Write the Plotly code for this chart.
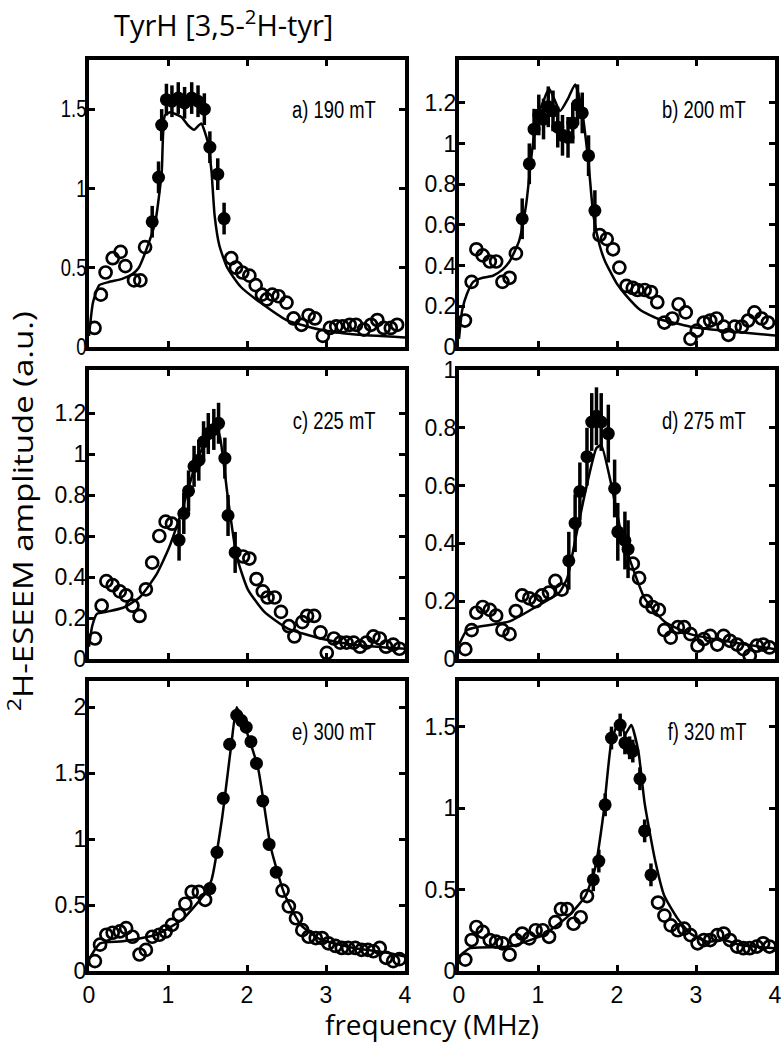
import plotly.graph_objects as go

# ---------------- data ----------------
panel_labels = ["a) 190 mT", "b) 200 mT", "c) 225 mT", "d) 275 mT", "e) 300 mT", "f) 320 mT"]
x_ticks = [0, 1, 2, 3, 4]

# a) 190 mT
a_open_x = [0.07, 0.15, 0.21, 0.30, 0.40, 0.46, 0.57, 0.65, 0.71, 1.80, 1.86, 1.94, 2.03, 2.11, 2.19, 2.25, 2.32,
            2.40, 2.50, 2.59, 2.69, 2.78, 2.86, 2.96, 3.05, 3.13, 3.21, 3.30, 3.38, 3.48, 3.57, 3.65, 3.73, 3.82, 3.90]
a_open_y = [0.12, 0.33, 0.47, 0.56, 0.60, 0.51, 0.42, 0.42, 0.63, 0.56, 0.50, 0.47, 0.45, 0.39, 0.33, 0.30, 0.33,
            0.32, 0.28, 0.18, 0.14, 0.20, 0.18, 0.07, 0.12, 0.13, 0.13, 0.14, 0.14, 0.11, 0.14, 0.17, 0.12, 0.12, 0.14]
a_fill_x = [0.80, 0.88, 0.92, 0.98, 1.05, 1.13, 1.21, 1.30, 1.38, 1.46, 1.53, 1.63, 1.71]
a_fill_y = [0.79, 1.07, 1.40, 1.56, 1.55, 1.57, 1.54, 1.57, 1.55, 1.50, 1.26, 1.09, 0.81]
a_fit_x = [0, 0.05, 0.13, 0.25, 0.42, 0.55, 0.63, 0.73, 0.84, 0.92, 0.96, 1.03, 1.17, 1.25, 1.33, 1.42, 1.50,
           1.55, 1.59, 1.65, 1.75, 1.92, 2.17, 2.50, 2.92, 3.34, 4.0]
a_fit_y = [0.07, 0.28, 0.39, 0.41, 0.43, 0.46, 0.50, 0.62, 0.79, 1.10, 1.46, 1.48, 1.45, 1.40, 1.37, 1.41, 1.30,
           1.11, 0.83, 0.64, 0.50, 0.38, 0.28, 0.17, 0.11, 0.08, 0.06]

# b) 200 mT
b_open_x = [0.075, 0.16, 0.22, 0.30, 0.39, 0.47, 0.55, 0.64, 0.72, 1.78, 1.87, 1.95, 2.03, 2.12, 2.20, 2.26, 2.35,
            2.43, 2.51, 2.60, 2.70, 2.78, 2.87, 2.93, 3.01, 3.10, 3.18, 3.26, 3.35, 3.41, 3.49, 3.58, 3.66, 3.74,
            3.83, 3.91]
b_open_y = [0.13, 0.32, 0.48, 0.45, 0.42, 0.42, 0.32, 0.34, 0.46, 0.55, 0.53, 0.48, 0.39, 0.30, 0.29, 0.28, 0.28,
            0.27, 0.22, 0.12, 0.14, 0.21, 0.17, 0.04, 0.08, 0.12, 0.13, 0.14, 0.10, 0.06, 0.10, 0.10, 0.13, 0.17,
            0.14, 0.12]
b_fill_x = [0.80, 0.89, 0.95, 1.01, 1.07, 1.13, 1.19, 1.25, 1.31, 1.38, 1.44, 1.50, 1.56, 1.64, 1.72]
b_fill_y = [0.63, 0.90, 1.07, 1.14, 1.12, 1.18, 1.16, 1.08, 1.04, 1.03, 1.10, 1.19, 1.15, 0.94, 0.67]
b_fit_x = [0, 0.04, 0.10, 0.18, 0.30, 0.43, 0.55, 0.64, 0.76, 0.85, 0.93, 0.99, 1.06, 1.14, 1.28, 1.38, 1.47,
           1.55, 1.64, 1.70, 1.78, 1.85, 2.00, 2.10, 2.30, 2.51, 2.93, 3.35, 4.0]
b_fit_y = [0.04, 0.18, 0.26, 0.32, 0.34, 0.35, 0.38, 0.42, 0.52, 0.70, 0.98, 1.13, 1.20, 1.27, 1.16, 1.22, 1.29,
           1.18, 0.90, 0.65, 0.50, 0.42, 0.31, 0.26, 0.18, 0.14, 0.10, 0.08, 0.056]

# c) 225 mT
c_open_x = [0.075, 0.16, 0.22, 0.30, 0.39, 0.47, 0.55, 0.64, 0.72, 0.80, 0.89, 0.97, 1.05, 1.95, 2.03, 2.12,
            2.20, 2.26, 2.35, 2.43, 2.53, 2.60, 2.70, 2.76, 2.85, 2.93, 3.01, 3.10, 3.18, 3.26, 3.35, 3.43, 3.51,
            3.60, 3.68, 3.76, 3.85, 3.93]
c_open_y = [0.10, 0.26, 0.38, 0.36, 0.33, 0.31, 0.26, 0.21, 0.34, 0.47, 0.60, 0.67, 0.66, 0.50, 0.49, 0.39,
            0.33, 0.30, 0.30, 0.23, 0.16, 0.11, 0.18, 0.21, 0.21, 0.13, 0.03, 0.10, 0.08, 0.08, 0.08, 0.06, 0.08,
            0.11, 0.10, 0.06, 0.07, 0.05]
c_fill_x = [1.14, 1.20, 1.26, 1.33, 1.39, 1.45, 1.51, 1.58, 1.64, 1.72, 1.76, 1.85]
c_fill_y = [0.58, 0.71, 0.82, 0.94, 0.97, 1.06, 1.10, 1.12, 1.15, 0.98, 0.70, 0.52]
c_fit_x = [0, 0.04, 0.10, 0.22, 0.43, 0.64, 0.85, 1.01, 1.18, 1.35, 1.49, 1.60, 1.66, 1.76, 1.87, 2.01, 2.22,
           2.51, 2.93, 3.35, 4.0]
c_fit_y = [0.06, 0.16, 0.22, 0.23, 0.25, 0.30, 0.41, 0.54, 0.73, 0.95, 1.07, 1.14, 1.08, 0.78, 0.50, 0.34, 0.23,
           0.15, 0.10, 0.07, 0.05]

# d) 275 mT
d_open_x = [0.08, 0.16, 0.22, 0.30, 0.39, 0.47, 0.55, 0.64, 0.72, 0.80, 0.89, 0.97, 1.05, 1.14, 1.22, 1.30,
            2.20, 2.28, 2.37, 2.45, 2.53, 2.60, 2.68, 2.77, 2.85, 2.93, 3.02, 3.10, 3.18, 3.27, 3.35, 3.43, 3.52,
            3.60, 3.68, 3.77, 3.85, 3.93]
d_open_y = [0.034, 0.10, 0.16, 0.18, 0.17, 0.15, 0.10, 0.086, 0.166, 0.22, 0.21, 0.20, 0.22, 0.23, 0.27, 0.24,
            0.33, 0.28, 0.20, 0.18, 0.17, 0.10, 0.074, 0.11, 0.11, 0.086, 0.046, 0.069, 0.08, 0.05, 0.08, 0.063,
            0.05, 0.034, 0.011, 0.046, 0.05, 0.04]
d_fill_x = [1.39, 1.47, 1.53, 1.62, 1.68, 1.74, 1.80, 1.89, 1.97, 2.01, 2.10, 2.14]
d_fill_y = [0.34, 0.47, 0.58, 0.70, 0.82, 0.84, 0.82, 0.78, 0.59, 0.44, 0.41, 0.38]
d_fit_x = [0, 0.10, 0.22, 0.64, 0.97, 1.27, 1.37, 1.47, 1.60, 1.74, 1.80, 1.93, 2.05, 2.18, 2.35, 2.60, 2.93,
           3.35, 4.0]
d_fit_y = [0.05, 0.10, 0.11, 0.13, 0.18, 0.23, 0.28, 0.41, 0.58, 0.73, 0.74, 0.60, 0.44, 0.33, 0.21, 0.13, 0.086,
           0.063, 0.034]

# e) 300 mT
e_open_x = [0.075, 0.14, 0.22, 0.30, 0.39, 0.47, 0.55, 0.64, 0.72, 0.80, 0.89, 0.97, 1.05, 1.14, 1.22, 1.30,
            1.39, 1.47, 2.45, 2.53, 2.62, 2.70, 2.78, 2.87, 2.95, 3.03, 3.12, 3.20, 3.28, 3.37, 3.45, 3.53, 3.60,
            3.68, 3.76, 3.85, 3.93]
e_open_y = [0.075, 0.20, 0.275, 0.29, 0.30, 0.325, 0.26, 0.125, 0.16, 0.26, 0.275, 0.30, 0.35, 0.425, 0.51,
            0.60, 0.60, 0.54, 0.61, 0.49, 0.40, 0.31, 0.26, 0.25, 0.25, 0.21, 0.19, 0.175, 0.175, 0.175, 0.16,
            0.16, 0.15, 0.175, 0.10, 0.075, 0.09]
e_fill_x = [1.53, 1.62, 1.70, 1.78, 1.87, 1.93, 1.99, 2.05, 2.12, 2.20, 2.28, 2.37]
e_fill_y = [0.625, 0.90, 1.31, 1.72, 1.94, 1.90, 1.85, 1.74, 1.575, 1.29, 0.96, 0.75]
e_fit_x = [0, 0.14, 0.43, 0.85, 1.18, 1.43, 1.55, 1.68, 1.80, 1.87, 1.97, 2.14, 2.30, 2.47, 2.68, 2.93, 3.35,
           3.76, 4.0]
e_fit_y = [0.09, 0.21, 0.225, 0.275, 0.39, 0.56, 0.69, 1.14, 1.71, 2.0, 1.86, 1.54, 0.94, 0.59, 0.35, 0.24, 0.175,
           0.14, 0.11]

# f) 320 mT
f_open_x = [0.08, 0.16, 0.22, 0.30, 0.39, 0.47, 0.55, 0.64, 0.72, 0.80, 0.89, 0.97, 1.06, 1.14, 1.22, 1.29,
            1.37, 1.45, 1.54, 1.62, 2.52, 2.60, 2.68, 2.77, 2.85, 2.93, 3.02, 3.10, 3.18, 3.27, 3.35, 3.43, 3.52,
            3.60, 3.68, 3.77, 3.85, 3.93]
f_open_y = [0.07, 0.19, 0.27, 0.24, 0.19, 0.18, 0.17, 0.10, 0.19, 0.23, 0.20, 0.25, 0.25, 0.21, 0.30, 0.38,
            0.38, 0.29, 0.33, 0.46, 0.42, 0.34, 0.28, 0.25, 0.26, 0.22, 0.17, 0.19, 0.19, 0.22, 0.23, 0.19, 0.15,
            0.14, 0.14, 0.15, 0.17, 0.15]
f_fill_x = [1.70, 1.77, 1.85, 1.93, 2.04, 2.10, 2.16, 2.20, 2.29, 2.35, 2.43]
f_fill_y = [0.56, 0.675, 1.02, 1.43, 1.51, 1.40, 1.37, 1.35, 1.18, 0.86, 0.59]
f_fit_x = [0, 0.14, 0.64, 1.06, 1.39, 1.60, 1.72, 1.83, 1.93, 2.04, 2.10, 2.18, 2.27, 2.35, 2.48, 2.60, 2.77,
           2.93, 3.14, 3.35, 3.56, 4.0]
f_fit_y = [0.09, 0.14, 0.15, 0.22, 0.34, 0.46, 0.625, 0.97, 1.41, 1.55, 1.45, 1.51, 1.35, 1.03, 0.685, 0.46, 0.32,
           0.23, 0.18, 0.19, 0.16, 0.14]

error_sizes = [0.10, 0.10, 0.10, 0.10, 0.045, 0.07]

y_ranges = [[0, 1.81], [0, 1.41], [0, 1.41], [0, 1.0], [0, 2.2], [0, 1.78]]
y_tickvals = [[0, 0.5, 1, 1.5], [0, 0.2, 0.4, 0.6, 0.8, 1.0, 1.2], [0, 0.2, 0.4, 0.6, 0.8, 1.0, 1.2],
              [0, 0.2, 0.4, 0.6, 0.8, 1.0], [0, 0.5, 1, 1.5, 2], [0, 0.5, 1, 1.5]]
y_ticktext = [["0", "0.5", "1", "1.5"], ["0", "0.2", "0.4", "0.6", "0.8", "1", "1.2"],
              ["0", "0.2", "0.4", "0.6", "0.8", "1", "1.2"], ["0", "0.2", "0.4", "0.6", "0.8", "1"],
              ["0", "0.5", "1", "1.5", "2"], ["0", "0.5", "1", "1.5"]]

panels = [
    (a_open_x, a_open_y, a_fill_x, a_fill_y, a_fit_x, a_fit_y),
    (b_open_x, b_open_y, b_fill_x, b_fill_y, b_fit_x, b_fit_y),
    (c_open_x, c_open_y, c_fill_x, c_fill_y, c_fit_x, c_fit_y),
    (d_open_x, d_open_y, d_fill_x, d_fill_y, d_fit_x, d_fit_y),
    (e_open_x, e_open_y, e_fill_x, e_fill_y, e_fit_x, e_fit_y),
    (f_open_x, f_open_y, f_fill_x, f_fill_y, f_fit_x, f_fit_y),
]

# ---------------- layout geometry ----------------
W, H = 783, 1050
col_px = [(89, 405), (459, 775)]
row_px = [(60, 347), (370, 659), (681, 971)]

NARROW = "Liberation Sans, Arial, sans-serif"
TICKFONT = dict(family=NARROW, size=23, color="black")

fig = go.Figure()
layout = dict(
    width=W, height=H,
    margin=dict(l=0, r=0, t=0, b=0),
    paper_bgcolor="white", plot_bgcolor="white",
    showlegend=False,
    template="none",
)
annotations = []

for i, (ox, oy, fx, fy, lx, ly) in enumerate(panels):
    r, c = divmod(i, 2)
    n = i + 1
    xa = "x" if n == 1 else f"x{n}"
    ya = "y" if n == 1 else f"y{n}"
    fig.add_trace(go.Scatter(x=lx, y=ly, mode="lines", line=dict(color="black", width=2.5, shape="spline",
                                                                  smoothing=0.5),
                             xaxis=xa, yaxis=ya, hoverinfo="skip"))
    fig.add_trace(go.Scatter(x=ox, y=oy, mode="markers",
                             marker=dict(symbol="circle-open", size=12, color="black", line=dict(width=2.7)),
                             xaxis=xa, yaxis=ya))
    fig.add_trace(go.Scatter(x=fx, y=fy, mode="markers",
                             marker=dict(symbol="circle", size=13, color="black"),
                             error_y=dict(type="constant", value=error_sizes[i], color="black",
                                          thickness=3.5, width=0),
                             xaxis=xa, yaxis=ya))
    x0, x1 = col_px[c]
    y0, y1 = row_px[r]
    axis_common = dict(showline=True, linewidth=4, linecolor="black", mirror="ticks",
                       ticks="inside", ticklen=6, tickwidth=3, tickcolor="black",
                       showgrid=False, zeroline=False, automargin=False, tickfont=TICKFONT)
    layout["xaxis" if n == 1 else f"xaxis{n}"] = dict(
        domain=[x0 / W, x1 / W], range=[0, 4], anchor=ya,
        tickvals=x_ticks, ticktext=[str(v) for v in x_ticks],
        showticklabels=(r == 2), **axis_common)
    layout["yaxis" if n == 1 else f"yaxis{n}"] = dict(
        domain=[1 - y1 / H, 1 - y0 / H], range=y_ranges[i], anchor=xa,
        tickvals=y_tickvals[i], ticktext=y_ticktext[i], **axis_common)
    annotations.append(dict(text=panel_labels[i], xref=f"{xa} domain", yref=f"{ya} domain",
                            x=0.915, y=0.825, xanchor="right", yanchor="middle", showarrow=False,
                            font=dict(family=NARROW, size=23, color="black")))

TEXTFONT = dict(family="Open Sans, Noto Sans, sans-serif", size=28, color="black")
annotations.append(dict(text="TyrH [3,5-<sup>2</sup>H-tyr]", xref="paper", yref="paper",
                        x=112 / W, y=1.0, xanchor="left", yanchor="top", showarrow=False,
                        font=dict(family="Open Sans, Noto Sans, sans-serif", size=29, color="black")))
annotations.append(dict(text="frequency (MHz)", xref="paper", yref="paper",
                        x=432 / W, y=1 - 1024 / H, xanchor="center", yanchor="middle", showarrow=False,
                        font=TEXTFONT))
annotations.append(dict(text="<sup>2</sup>H-ESEEM amplitude (a.u.)", xref="paper", yref="paper",
                        x=20 / W, y=1 - 512 / H, xanchor="center", yanchor="middle", textangle=-90,
                        showarrow=False, font=TEXTFONT))
layout["annotations"] = annotations

try:
    fig.update_layout(**layout)
    for n in range(1, 7):
        key = "yaxis" if n == 1 else f"yaxis{n}"
        fig.layout[key].ticklabelstandoff = -6
except Exception:
    fig.update_layout(**layout)

post = """
document.body.style.margin='0';
var gd = document.getElementById('{plot_id}');
function squeeze(el, s, keepRight){
  var L = el.getComputedTextLength();
  if(!L) return;
  el.setAttribute('textLength', (L*s).toFixed(2));
  el.setAttribute('lengthAdjust','spacingAndGlyphs');
  if(keepRight){
    var a = el.getAttribute('text-anchor');
    var x = parseFloat(el.getAttribute('x')||'0');
    if(a==='middle'){ el.setAttribute('x', x + L*(1-s)/2); }
    else if(a==='start' || !a){ el.setAttribute('x', x + L*(1-s)); }
  }
}
gd.querySelectorAll('g.xtick text, g.ytick text').forEach(function(el){ squeeze(el, 0.8, false); });
gd.querySelectorAll('g.annotation').forEach(function(g){
  var idx = parseInt(g.getAttribute('data-index'));
  var t = g.querySelector('text.annotation-text');
  if(!t) return;
  if(idx < 6){ squeeze(t, 0.8, true); }
  else if(idx === 8){ t.setAttribute('textLength', 400); t.setAttribute('lengthAdjust','spacingAndGlyphs'); }
});
"""

fig.write_html("out.html", post_script=post, config={"displayModeBar": False})
